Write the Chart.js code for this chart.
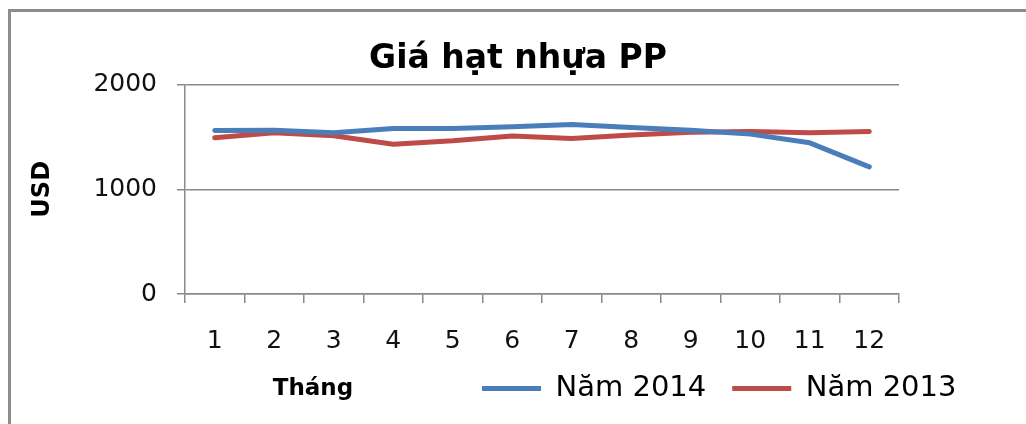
<!DOCTYPE html>
<html>
<head>
<meta charset="utf-8">
<script src="https://cdn.jsdelivr.net/npm/chart.js@4.4.1/dist/chart.umd.min.js"></script>
<style>
  html, body { margin: 0; padding: 0; background: #fff; overflow: hidden; }
  #wrap { width: 1026px; height: 424px; position: relative; }
  #chart { display: block; }
</style>
</head>
<body>
<div id="wrap"><canvas id="chart" width="1026" height="424"></canvas></div>
<script>
const months = ['1', '2', '3', '4', '5', '6', '7', '8', '9', '10', '11', '12'];
const nam2014 = [1562, 1565, 1540, 1580, 1580, 1597, 1620, 1590, 1565, 1527, 1444, 1214];
const nam2013 = [1492, 1540, 1511, 1431, 1463, 1508, 1486, 1518, 1546, 1553, 1540, 1553];
const yTicks = [0, 1000, 2000];

const gridGray = '#8a8a8a';

// frame of the chart box + x axis caption "Tháng", legend placed on the right
const framePlugin = {
    id: 'frame',
    afterLayout(chart) {
        const lg = chart.legend;
        lg.left = 456;
        lg.right = 1016;
        lg.width = lg.right - lg.left;
    },
    beforeDraw(chart) {
        const ctx = chart.ctx;
        ctx.save();
        ctx.fillStyle = '#fff';
        ctx.fillRect(0, 0, chart.width, chart.height);
        ctx.restore();
    },
    afterDraw(chart) {
        const ctx = chart.ctx;
        ctx.save();
        // only left and top edges of the box are visible
        ctx.fillStyle = '#8c8c8c';
        ctx.fillRect(8, 9, 3, chart.height - 9);
        ctx.fillRect(8, 9, chart.width - 8, 3);
        ctx.font = 'bold 23px "DejaVu Sans"';
        ctx.fillStyle = '#000';
        ctx.textAlign = 'center';
        ctx.textBaseline = 'middle';
        ctx.fillText('Tháng', 313, 389);
        ctx.restore();
    }
};

new Chart(document.getElementById('chart').getContext('2d'), {
    type: 'line',
    data: {
        labels: months,
        datasets: [{
            label: 'Năm 2014',
            data: nam2014,
            borderColor: '#4a7ebb',
            backgroundColor: '#4a7ebb',
            borderWidth: 5,
            borderCapStyle: 'round',
            borderJoinStyle: 'round',
            pointRadius: 0,
            tension: 0
        }, {
            label: 'Năm 2013',
            data: nam2013,
            borderColor: '#be4b48',
            backgroundColor: '#be4b48',
            borderWidth: 5,
            borderCapStyle: 'round',
            borderJoinStyle: 'round',
            pointRadius: 0,
            tension: 0
        }]
    },
    options: {
        responsive: false,
        animation: false,
        devicePixelRatio: 1,
        layout: {
            padding: { left: 20, right: 10, top: 30, bottom: 11 }
        },
        scales: {
            x: {
                offset: true,
                grid: {
                    offset: true,
                    drawOnChartArea: false,
                    drawTicks: true,
                    tickLength: 9,
                    color: gridGray,
                    lineWidth: 1.5
                },
                border: { color: gridGray, width: 1.5 },
                ticks: {
                    color: '#111',
                    padding: 23,
                    maxRotation: 0,
                    font: { family: '"DejaVu Sans"', size: 25 }
                },
                afterFit: function(scale) {
                    scale.height = 54;
                }
            },
            y: {
                min: 0,
                max: 2000,
                afterBuildTicks: function(scale) {
                    scale.ticks = yTicks.map(v => ({ value: v }));
                },
                grid: {
                    color: gridGray,
                    lineWidth: 1.5,
                    tickLength: 8
                },
                border: { color: gridGray, width: 1.5 },
                ticks: {
                    color: '#111',
                    padding: 20,
                    font: { family: '"DejaVu Sans"', size: 25 },
                    callback: function(value) {
                        return String(value);
                    }
                },
                title: {
                    display: true,
                    text: 'USD',
                    color: '#000',
                    padding: { top: 8, bottom: 0 },
                    font: { family: '"DejaVu Sans"', size: 24, weight: 'bold' }
                },
                afterFit: function(scale) {
                    scale.width = 165;
                }
            },
            yRight: {
                position: 'right',
                display: true,
                grid: { display: false },
                border: { display: false },
                ticks: { display: false },
                afterFit: function(scale) {
                    scale.width = 117;
                }
            }
        },
        plugins: {
            title: {
                display: true,
                text: 'Giá hạt nhựa PP',
                color: '#000',
                padding: { top: 10, bottom: 5 },
                font: { family: '"DejaVu Sans"', size: 33, weight: 'bold' }
            },
            legend: {
                display: true,
                position: 'bottom',
                align: 'start',
                labels: {
                    boxWidth: 59,
                    boxHeight: 5,
                    padding: 26,
                    color: '#000',
                    font: { family: '"DejaVu Sans"', size: 29 },
                    generateLabels: function(chart) {
                        return chart.data.datasets.map((ds, i) => ({
                            text: ds.label,
                            fillStyle: ds.borderColor,
                            strokeStyle: ds.borderColor,
                            lineWidth: 0,
                            fontColor: '#000',
                            hidden: false,
                            datasetIndex: i
                        }));
                    }
                }
            },
            tooltip: { enabled: false }
        }
    },
    plugins: [framePlugin]
});
</script>
</body>
</html>
